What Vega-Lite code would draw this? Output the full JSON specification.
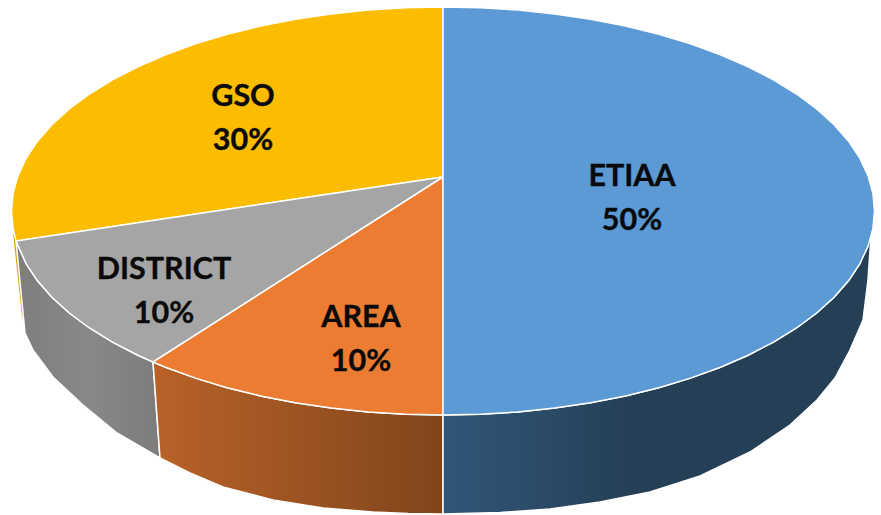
{"$schema":"https://vega.github.io/schema/vega-lite/v6.json","autosize":"none","width":881,"height":515,"padding":0,"background":"white","config":{"view":{"stroke":null}},
"datasets":{
"outline":[
{"p":"sliver","s":1,"u":13,"v":233},{"p":"sliver","s":2,"u":18,"v":243},{"p":"sliver","s":3,"u":25,"v":325},{"p":"sliver","s":4,"u":22,"v":316},
{"p":"sideD","s":1,"u":16,"v":241},{"p":"sideD","s":2,"u":26.2,"v":263.8},{"p":"sideD","s":3,"u":37.5,"v":280.8},{"p":"sideD","s":4,"u":51.9,"v":297.2},{"p":"sideD","s":5,"u":69.3,"v":313},{"p":"sideD","s":6,"u":89.5,"v":328},{"p":"sideD","s":7,"u":112.5,"v":342.1},{"p":"sideD","s":8,"u":137.9,"v":355.2},{"p":"sideD","s":9,"u":153,"v":362},{"p":"sideD","s":10,"u":160,"v":458},{"p":"sideD","s":11,"u":117,"v":433},{"p":"sideD","s":12,"u":83,"v":405},{"p":"sideD","s":13,"u":53,"v":377},{"p":"sideD","s":14,"u":33,"v":350},{"p":"sideD","s":15,"u":25,"v":333},{"p":"sideD","s":16,"u":16,"v":241},
{"p":"sideA","s":1,"u":153,"v":362},{"p":"sideA","s":2,"u":165.6,"v":367.3},{"p":"sideA","s":3,"u":195.5,"v":378.1},{"p":"sideA","s":4,"u":227.2,"v":387.7},{"p":"sideA","s":5,"u":260.6,"v":395.9},{"p":"sideA","s":6,"u":295.4,"v":402.7},{"p":"sideA","s":7,"u":331.3,"v":408},{"p":"sideA","s":8,"u":368.1,"v":411.9},{"p":"sideA","s":9,"u":405.4,"v":414.2},{"p":"sideA","s":10,"u":443,"v":415},{"p":"sideA","s":11,"u":443,"v":514},{"p":"sideA","s":12,"u":408,"v":513.5},{"p":"sideA","s":13,"u":373,"v":512},{"p":"sideA","s":14,"u":323,"v":508},{"p":"sideA","s":15,"u":273,"v":500},{"p":"sideA","s":16,"u":223,"v":487},{"p":"sideA","s":17,"u":190,"v":473},{"p":"sideA","s":18,"u":160,"v":458},{"p":"sideA","s":19,"u":153,"v":362},
{"p":"sideE","s":1,"u":443,"v":415},{"p":"sideE","s":2,"u":480.6,"v":414.2},{"p":"sideE","s":3,"u":517.9,"v":411.9},{"p":"sideE","s":4,"u":554.7,"v":408},{"p":"sideE","s":5,"u":590.6,"v":402.7},{"p":"sideE","s":6,"u":625.4,"v":395.9},{"p":"sideE","s":7,"u":658.8,"v":387.7},{"p":"sideE","s":8,"u":690.5,"v":378.1},{"p":"sideE","s":9,"u":720.4,"v":367.3},{"p":"sideE","s":10,"u":748.1,"v":355.2},{"p":"sideE","s":11,"u":773.5,"v":342.1},{"p":"sideE","s":12,"u":796.5,"v":328},{"p":"sideE","s":13,"u":816.7,"v":313},{"p":"sideE","s":14,"u":834.1,"v":297.2},{"p":"sideE","s":15,"u":848.5,"v":280.8},{"p":"sideE","s":16,"u":859.8,"v":263.8},{"p":"sideE","s":17,"u":871,"v":236},{"p":"sideE","s":18,"u":868,"v":280},{"p":"sideE","s":19,"u":863,"v":320},{"p":"sideE","s":20,"u":850,"v":350},{"p":"sideE","s":21,"u":835,"v":378},{"p":"sideE","s":22,"u":817,"v":400},{"p":"sideE","s":23,"u":790,"v":425},{"p":"sideE","s":24,"u":750,"v":452},{"p":"sideE","s":25,"u":700,"v":476},{"p":"sideE","s":26,"u":650,"v":492},{"p":"sideE","s":27,"u":600,"v":502},{"p":"sideE","s":28,"u":550,"v":509},{"p":"sideE","s":29,"u":500,"v":512.5},{"p":"sideE","s":30,"u":443,"v":514},{"p":"sideE","s":31,"u":443,"v":415},
{"p":"GSO","s":1,"u":443,"v":177},{"p":"GSO","s":2,"u":16,"v":241},{"p":"GSO","s":3,"u":13.1,"v":228.8},{"p":"GSO","s":4,"u":11.5,"v":211},{"p":"GSO","s":5,"u":13.1,"v":193.2},{"p":"GSO","s":6,"u":18,"v":175.6},{"p":"GSO","s":7,"u":26.2,"v":158.2},{"p":"GSO","s":8,"u":37.5,"v":141.2},{"p":"GSO","s":9,"u":51.9,"v":124.8},{"p":"GSO","s":10,"u":69.3,"v":109},{"p":"GSO","s":11,"u":89.5,"v":94},{"p":"GSO","s":12,"u":112.5,"v":79.9},{"p":"GSO","s":13,"u":137.9,"v":66.8},{"p":"GSO","s":14,"u":165.6,"v":54.7},{"p":"GSO","s":15,"u":195.5,"v":43.9},{"p":"GSO","s":16,"u":227.2,"v":34.3},{"p":"GSO","s":17,"u":260.6,"v":26.1},{"p":"GSO","s":18,"u":295.4,"v":19.3},{"p":"GSO","s":19,"u":331.3,"v":14},{"p":"GSO","s":20,"u":368.1,"v":10.1},{"p":"GSO","s":21,"u":405.4,"v":7.8},{"p":"GSO","s":22,"u":443,"v":7},{"p":"GSO","s":23,"u":443,"v":177},
{"p":"DISTRICT","s":1,"u":443,"v":177},{"p":"DISTRICT","s":2,"u":153,"v":362},{"p":"DISTRICT","s":3,"u":137.9,"v":355.2},{"p":"DISTRICT","s":4,"u":112.5,"v":342.1},{"p":"DISTRICT","s":5,"u":89.5,"v":328},{"p":"DISTRICT","s":6,"u":69.3,"v":313},{"p":"DISTRICT","s":7,"u":51.9,"v":297.2},{"p":"DISTRICT","s":8,"u":37.5,"v":280.8},{"p":"DISTRICT","s":9,"u":26.2,"v":263.8},{"p":"DISTRICT","s":10,"u":16,"v":241},{"p":"DISTRICT","s":11,"u":443,"v":177},
{"p":"AREA","s":1,"u":443,"v":177},{"p":"AREA","s":2,"u":443,"v":415},{"p":"AREA","s":3,"u":405.4,"v":414.2},{"p":"AREA","s":4,"u":368.1,"v":411.9},{"p":"AREA","s":5,"u":331.3,"v":408},{"p":"AREA","s":6,"u":295.4,"v":402.7},{"p":"AREA","s":7,"u":260.6,"v":395.9},{"p":"AREA","s":8,"u":227.2,"v":387.7},{"p":"AREA","s":9,"u":195.5,"v":378.1},{"p":"AREA","s":10,"u":165.6,"v":367.3},{"p":"AREA","s":11,"u":153,"v":362},{"p":"AREA","s":12,"u":443,"v":177},
{"p":"ETIAA","s":1,"u":443,"v":177},{"p":"ETIAA","s":2,"u":443,"v":7},{"p":"ETIAA","s":3,"u":480.6,"v":7.8},{"p":"ETIAA","s":4,"u":517.9,"v":10.1},{"p":"ETIAA","s":5,"u":554.7,"v":14},{"p":"ETIAA","s":6,"u":590.6,"v":19.3},{"p":"ETIAA","s":7,"u":625.4,"v":26.1},{"p":"ETIAA","s":8,"u":658.8,"v":34.3},{"p":"ETIAA","s":9,"u":690.5,"v":43.9},{"p":"ETIAA","s":10,"u":720.4,"v":54.7},{"p":"ETIAA","s":11,"u":748.1,"v":66.8},{"p":"ETIAA","s":12,"u":773.5,"v":79.9},{"p":"ETIAA","s":13,"u":796.5,"v":94},{"p":"ETIAA","s":14,"u":816.7,"v":109},{"p":"ETIAA","s":15,"u":834.1,"v":124.8},{"p":"ETIAA","s":16,"u":848.5,"v":141.2},{"p":"ETIAA","s":17,"u":859.8,"v":158.2},{"p":"ETIAA","s":18,"u":868,"v":175.6},{"p":"ETIAA","s":19,"u":872.9,"v":193.2},{"p":"ETIAA","s":20,"u":874.5,"v":211},{"p":"ETIAA","s":21,"u":872.9,"v":228.8},{"p":"ETIAA","s":22,"u":868,"v":246.4},{"p":"ETIAA","s":23,"u":859.8,"v":263.8},{"p":"ETIAA","s":24,"u":848.5,"v":280.8},{"p":"ETIAA","s":25,"u":834.1,"v":297.2},{"p":"ETIAA","s":26,"u":816.7,"v":313},{"p":"ETIAA","s":27,"u":796.5,"v":328},{"p":"ETIAA","s":28,"u":773.5,"v":342.1},{"p":"ETIAA","s":29,"u":748.1,"v":355.2},{"p":"ETIAA","s":30,"u":720.4,"v":367.3},{"p":"ETIAA","s":31,"u":690.5,"v":378.1},{"p":"ETIAA","s":32,"u":658.8,"v":387.7},{"p":"ETIAA","s":33,"u":625.4,"v":395.9},{"p":"ETIAA","s":34,"u":590.6,"v":402.7},{"p":"ETIAA","s":35,"u":554.7,"v":408},{"p":"ETIAA","s":36,"u":517.9,"v":411.9},{"p":"ETIAA","s":37,"u":480.6,"v":414.2},{"p":"ETIAA","s":38,"u":443,"v":415},{"p":"ETIAA","s":39,"u":443,"v":177}
],
"shares":[
{"name":"ETIAA","share":50,"label":"ETIAA\n50%","u":632,"v":177},
{"name":"GSO","share":30,"label":"GSO\n30%","u":243,"v":97},
{"name":"DISTRICT","share":10,"label":"DISTRICT\n10%","u":164,"v":270},
{"name":"AREA","share":10,"label":"AREA\n10%","u":361,"v":318}
]},
"encoding":{
"x":{"field":"u","type":"quantitative","axis":null,"scale":{"domain":[0,881],"nice":false,"zero":false}},
"y":{"field":"v","type":"quantitative","axis":null,"scale":{"domain":[515,0],"nice":false,"zero":false}}
},
"layer":[
{"data":{"name":"outline"},"transform":[{"filter":"datum.p==='sliver'"}],"mark":{"type":"line","fill":"#dca60c","strokeWidth":0,"clip":false},"encoding":{"order":{"field":"s","type":"quantitative"}}},
{"data":{"name":"outline"},"transform":[{"filter":"datum.p==='sideD'"}],"mark":{"type":"line","stroke":"white","strokeWidth":1.5,"fill":{"gradient":"linear","x1":0,"y1":0,"x2":1,"y2":0,"stops":[{"offset":0,"color":"#7e7e7e"},{"offset":0.5,"color":"#888888"},{"offset":1,"color":"#7c7c7c"}]}},"encoding":{"order":{"field":"s","type":"quantitative"}}},
{"data":{"name":"outline"},"transform":[{"filter":"datum.p==='sideA'"}],"mark":{"type":"line","stroke":"white","strokeWidth":1.5,"fill":{"gradient":"linear","x1":0,"y1":0,"x2":1,"y2":0,"stops":[{"offset":0,"color":"#b86228"},{"offset":1,"color":"#81451b"}]}},"encoding":{"order":{"field":"s","type":"quantitative"}}},
{"data":{"name":"outline"},"transform":[{"filter":"datum.p==='sideE'"}],"mark":{"type":"line","stroke":"white","strokeWidth":1.5,"fill":{"gradient":"linear","x1":0,"y1":0,"x2":1,"y2":0,"stops":[{"offset":0,"color":"#315679"},{"offset":0.45,"color":"#243f56"},{"offset":1,"color":"#243f56"}]}},"encoding":{"order":{"field":"s","type":"quantitative"}}},
{"data":{"name":"outline"},"transform":[{"filter":"datum.p==='GSO'"}],"mark":{"type":"line","stroke":"white","strokeWidth":1.5,"fill":"#fcbd00"},"encoding":{"order":{"field":"s","type":"quantitative"}}},
{"data":{"name":"outline"},"transform":[{"filter":"datum.p==='DISTRICT'"}],"mark":{"type":"line","stroke":"white","strokeWidth":1.5,"fill":"#a5a5a5"},"encoding":{"order":{"field":"s","type":"quantitative"}}},
{"data":{"name":"outline"},"transform":[{"filter":"datum.p==='AREA'"}],"mark":{"type":"line","stroke":"white","strokeWidth":1.5,"fill":"#ec7c31"},"encoding":{"order":{"field":"s","type":"quantitative"}}},
{"data":{"name":"outline"},"transform":[{"filter":"datum.p==='ETIAA'"}],"mark":{"type":"line","stroke":"white","strokeWidth":1.5,"fill":"#5b9ad5"},"encoding":{"order":{"field":"s","type":"quantitative"}}},
{"data":{"name":"shares"},"mark":{"type":"text","font":"Lato","fontWeight":"bold","fontSize":30.5,"color":"#0a0a0a","stroke":"#0a0a0a","strokeWidth":0.35,"lineBreak":"\n","lineHeight":44,"align":"center","baseline":"middle"},"encoding":{"text":{"field":"label"}}}
]}
